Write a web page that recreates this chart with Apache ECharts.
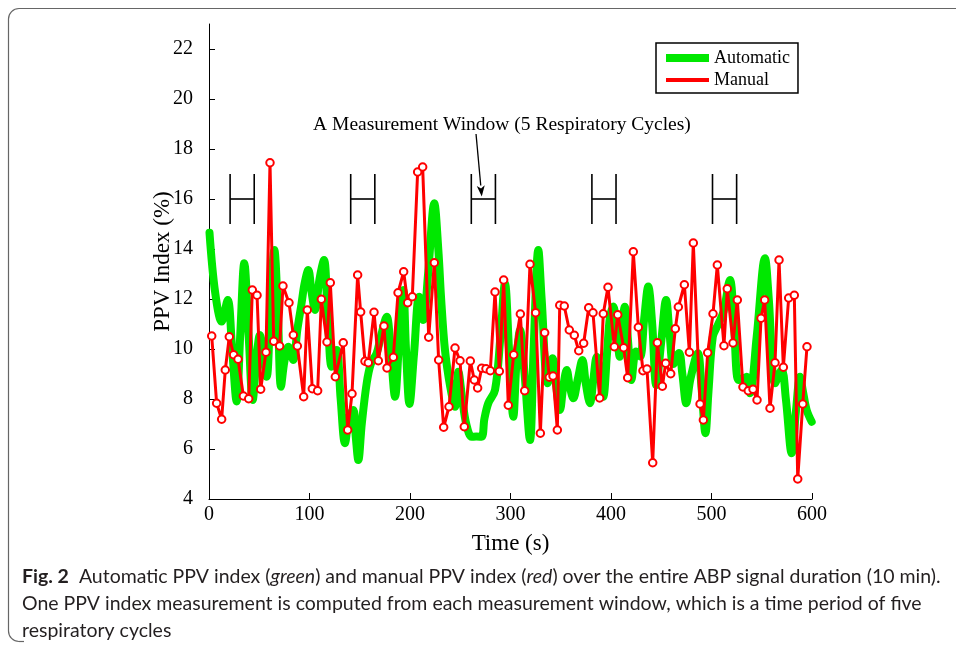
<!DOCTYPE html>
<html>
<head>
<meta charset="utf-8">
<script src="https://cdn.jsdelivr.net/npm/echarts@6/dist/echarts.min.js"></script>
<style>
html,body{margin:0;padding:0;background:#fff;}
#chart{width:956px;height:647px;}
</style>
</head>
<body>
<div id="chart"></div>
<script>
// ---- Data ----
const manualT = [
  2.7, 7.6, 12.6, 16.2, 20.2, 24.5, 28.9, 34.2, 39.5, 43.1,
  47.8, 51.4, 56.7, 60.7, 64.4, 70.3, 73.6, 79.6, 83.9, 87.9,
  94.2, 97.8, 102.8, 108.1, 111.8, 117.4, 120.7, 125.7, 133.6, 138,
  142.3, 147.9, 150.9, 155.2, 158.5, 164.2, 168.5, 174.1, 177.1, 183.4,
  188.1, 193.7, 197.7, 202.3, 207.6, 212.6, 218.6, 224.2, 228.5, 233.5,
  238.8, 244.8, 249.8, 254, 260, 264, 267.3, 271.3, 275.6, 279.9,
  284.6, 288.9, 293.2, 297.8, 303.2, 309.8, 314.1, 319.4, 325, 329.7,
  334, 338.6, 342.3, 346.6, 349, 353.5, 358.5, 363.5, 367.9, 372.8,
  377.8, 382.1, 388.7, 392.3, 397, 403.3, 406.7, 412.6, 416.6, 422.2,
  427.2, 431.8, 435.8, 441.5, 446.1, 451.1, 454.4, 459.4, 464, 467,
  473, 478, 481.9, 488.6, 491.9, 496.2, 501.5, 505.8, 512.4, 515.7,
  521.4, 525.7, 531.3, 536.6, 541.3, 545.3, 549.3, 552.9, 558.2, 563.2,
  567.2, 571.5, 576.8, 582.4, 585.8, 590.8, 595
];
const manualV = [
  10.52, 7.83, 7.19, 9.16, 10.49, 9.77, 9.59, 8.12, 8.01, 12.36,
  12.15, 8.39, 9.87, 17.45, 10.31, 10.12, 12.52, 11.85, 10.56, 10.12,
  8.09, 11.56, 8.41, 8.33, 11.99, 10.28, 12.65, 8.89, 10.25, 6.76,
  8.21, 12.96, 11.48, 9.51, 9.45, 11.47, 9.53, 10.92, 9.24, 9.67,
  12.25, 13.09, 11.85, 12.09, 17.08, 17.28, 10.47, 13.45, 9.56, 6.87,
  7.69, 10.04, 9.53, 6.89, 9.52, 8.76, 8.44, 9.23, 9.21, 9.13,
  12.28, 9.11, 12.76, 7.75, 9.77, 11.4, 8.33, 13.39, 11.45, 6.63,
  10.65, 8.87, 8.92, 6.76, 11.75, 11.72, 10.76, 10.55, 9.93, 10.23,
  11.65, 11.45, 8.04, 11.41, 12.47, 10.09, 11.37, 10.05, 8.85, 13.89,
  10.87, 9.13, 9.2, 5.45, 10.25, 8.51, 9.43, 9.01, 10.81, 11.68,
  12.57, 9.87, 14.24, 7.8, 7.16, 9.85, 11.41, 13.36, 10.13, 12.41,
  10.24, 11.96, 8.48, 8.33, 8.39, 7.96, 11.23, 11.96, 7.63, 9.45,
  13.56, 9.27, 12.04, 12.15, 4.8, 7.8, 10.09
];
const autoT = [
  0.5, 6, 12.6, 18.6, 23, 27.5, 31, 35.1, 39.5, 43.5,
  47, 50.7, 54, 57.4, 61, 65, 68.5, 71.6, 75, 78.9,
  81.5, 83.9, 88, 92, 95, 98.8, 102, 105.5, 110, 114.4,
  118, 122.1, 127, 131, 135.3, 139.5, 143.6, 146, 148.6, 152,
  156.9, 161, 166.8, 171, 176.8, 181, 185.1, 189, 193.3, 196,
  199.5, 204, 209, 213.2, 218, 224.2, 228.2, 231, 234.8, 240,
  244.8, 248.1, 252, 256, 261.4, 266, 271.3, 274, 277.9, 284.6,
  290, 294.5, 298.5, 302.8, 306, 309.5, 314, 319.4, 323, 327.7,
  331, 337, 342, 345.5, 349.2, 352.5, 355.9, 359, 362.5, 367,
  371.5, 375, 379.1, 382.5, 385.8, 389, 392.3, 396, 399, 402.3,
  405.5, 408.7, 411, 413.7, 417, 420.3, 424.9, 429, 433, 437.1,
  441, 445, 450, 454.8, 458.5, 462, 467.7, 471, 474.9, 479,
  486.4, 490, 494, 497, 501.3, 506.3, 512, 518.4, 522, 526.7,
  531, 535, 538.3, 545, 553.2, 557, 563.2, 569.8, 574, 579.8,
  584, 588.1, 591, 594.7, 599.7
];
const autoV = [
  14.65, 12.3, 11.1, 11.96, 10.0, 7.9, 10.5, 13.43, 10.5, 7.96,
  9.5, 10.56, 9.8, 8.89, 11.5, 13.96, 11.5, 8.49, 9.5, 10.09,
  9.8, 9.56, 10.8, 11.8, 12.6, 13.16, 12.3, 11.56, 12.8, 13.56,
  11.5, 9.29, 9.96, 8.0, 6.23, 7.3, 7.56, 6.5, 5.56, 7.0,
  8.63, 9.4, 9.83, 10.5, 11.29, 9.8, 8.09, 10.2, 12.36, 10.0,
  7.8, 9.8, 12.09, 11.16, 13.0, 15.83, 13.96, 12.0, 9.96, 8.5,
  7.69, 9.09, 8.0, 7.0, 6.49, 6.5, 6.49, 7.2, 7.83, 8.36,
  10.5, 12.63, 10.0, 7.29, 9.5, 10.76, 9.0, 6.36, 10.0, 13.96,
  12.0, 8.63, 9.63, 8.5, 7.56, 8.5, 9.16, 8.5, 8.03, 8.8,
  9.56, 8.6, 7.83, 8.8, 9.69, 9.0, 8.09, 9.8, 11.29, 11.7,
  10.8, 9.69, 10.8, 11.69, 10.3, 8.76, 9.9, 9.7, 11.2, 12.5,
  11.0, 8.55, 10.3, 11.96, 10.5, 9.4, 9.84, 9.0, 7.83, 8.8,
  9.83, 8.5, 6.63, 8.3, 10.49, 10.96, 11.5, 12.76, 11.3, 8.76,
  8.8, 8.89, 8.23, 10.5, 13.63, 12.0, 8.63, 9.16, 8.0, 5.83,
  7.5, 8.89, 8.3, 7.56, 7.09
];
// measurement window markers (seconds) and their vertical span (%)
const windowStart = [21, 141, 261, 381, 501];
const windowEnd = [45, 165, 285, 405, 525];
const windowLow = 15;
const windowHigh = 17;
// annotation arrow and label (data coordinates)
const arrowFrom = [265.7, 18.6];
const arrowTo = [271.4, 16.1];
const annotationPos = [291.5, 18.96];
const annotationText = 'A Measurement Window (5 Respiratory Cycles)';
const xTicks = [0, 100, 200, 300, 400, 500, 600];
const yTicks = [4, 6, 8, 10, 12, 14, 16, 18, 20, 22];
const seriesNames = ['Automatic', 'Manual'];
const captionLines = [
  '{b|Fig. 2}  Automatic PPV index ({i|green}) and manual PPV index ({i|red}) over the entire ABP signal duration (10 min).',
  'One PPV index measurement is computed from each measurement window, which is a time period of five',
  'respiratory cycles'
];

// ---- Build ----
const SERIF = "'Liberation Serif','Times New Roman',serif";
const CAPF = "Lato,'Liberation Sans',sans-serif";
function fitSize(text, family, target) {
  const c = document.createElement('canvas').getContext('2d');
  c.font = '100px ' + family;
  return 100 * target / c.measureText(text).width;
}
const capSize = fitSize(captionLines[1], CAPF, 900);

const chart = echarts.init(document.getElementById('chart'), null, {renderer: 'canvas'});
const manualData = manualT.map((t, i) => [t, manualV[i]]);
const autoData = autoT.map((t, i) => [t, autoV[i]]);
const frameStyle = {stroke: '#666', lineWidth: 1.2, fill: null};

const option = {
  animation: false,
  backgroundColor: '#fff',
  grid: {left: 209, right: 144, top: 24, bottom: 148, containLabel: false},
  legend: {
    orient: 'vertical', left: 656, top: 43,
    padding: [6, 8, 4, 6], itemGap: 4, itemWidth: 43, itemHeight: 18,
    borderColor: '#000', borderWidth: 1.5, backgroundColor: '#fff',
    textStyle: {fontFamily: SERIF, fontSize: 18, color: '#000'},
    itemStyle: {opacity: 0},
    data: [
      {name: seriesNames[0], lineStyle: {width: 8, color: '#00e800', cap: 'butt'}},
      {name: seriesNames[1], lineStyle: {width: 4, color: '#ff0000', cap: 'butt'}}
    ]
  },
  xAxis: {
    type: 'value', min: 0, max: 600, interval: 100,
    name: 'Time (s)', nameLocation: 'middle', nameGap: 33,
    nameTextStyle: {fontFamily: SERIF, fontSize: 23, color: '#000'},
    axisLine: {lineStyle: {color: '#000', width: 1}},
    axisTick: {inside: true, length: 6, lineStyle: {color: '#000'}},
    axisLabel: {fontFamily: SERIF, fontSize: 20, color: '#000', margin: 6},
    splitLine: {show: false}
  },
  yAxis: {
    type: 'value', min: 4, max: 23, interval: 2,
    name: 'PPV Index (%)', nameLocation: 'middle', nameGap: 35, nameMoveOverlap: false,
    nameTextStyle: {fontFamily: SERIF, fontSize: 23, color: '#000'},
    axisLine: {lineStyle: {color: '#000', width: 1}},
    axisTick: {inside: true, length: 6, lineStyle: {color: '#000'}, customValues: yTicks},
    axisLabel: {fontFamily: SERIF, fontSize: 20, color: '#000', margin: 16, customValues: yTicks,
      formatter: v => (yTicks.indexOf(v) >= 0 ? String(v) : '')},
    splitLine: {show: false}
  },
  series: [
    {
      name: seriesNames[0], type: 'line', data: autoData,
      smooth: 0.35, showSymbol: false, symbol: 'none',
      lineStyle: {color: '#00e800', width: 8, cap: 'round', join: 'round'},
      itemStyle: {color: '#00e800'}, z: 2
    },
    {
      name: seriesNames[1], type: 'line', data: manualData,
      symbol: 'circle', symbolSize: 7.5, showAllSymbol: true,
      lineStyle: {color: '#ff0000', width: 3},
      itemStyle: {color: '#ffffff', borderColor: '#ff0000', borderWidth: 2}, z: 3
    },
    {
      name: 'windows', type: 'custom', silent: true, z: 4,
      data: windowStart.map((s, i) => [s, windowEnd[i], windowLow, windowHigh]),
      encode: {x: [0, 1], y: [2, 3]},
      renderItem: (params, api) => {
        const s = api.value(0), e = api.value(1), lo = api.value(2), hi = api.value(3), mid = (lo + hi) / 2;
        const a = api.coord([s, hi]), b = api.coord([s, lo]);
        const c = api.coord([e, hi]), d = api.coord([e, lo]);
        const m1 = api.coord([s, mid]), m2 = api.coord([e, mid]);
        const st = {stroke: '#000', lineWidth: 1.6};
        return {type: 'group', children: [
          {type: 'line', shape: {x1: a[0], y1: a[1], x2: b[0], y2: b[1]}, style: st},
          {type: 'line', shape: {x1: c[0], y1: c[1], x2: d[0], y2: d[1]}, style: st},
          {type: 'line', shape: {x1: m1[0], y1: m1[1], x2: m2[0], y2: m2[1]}, style: st}
        ]};
      }
    },
    {
      name: 'arrow', type: 'custom', silent: true, z: 4,
      data: [[arrowFrom[0], arrowFrom[1], arrowTo[0], arrowTo[1]]],
      encode: {x: [0, 2], y: [1, 3]},
      renderItem: (params, api) => {
        const p = api.coord([api.value(0), api.value(1)]);
        const q = api.coord([api.value(2), api.value(3)]);
        const dx = q[0] - p[0], dy = q[1] - p[1], L = Math.hypot(dx, dy);
        const ux = dx / L, uy = dy / L, hl = 11, hw = 4;
        const bx = q[0] - ux * hl, by = q[1] - uy * hl;
        return {type: 'group', children: [
          {type: 'line', shape: {x1: p[0], y1: p[1], x2: bx, y2: by}, style: {stroke: '#000', lineWidth: 1.3}},
          {type: 'polygon', shape: {points: [[q[0], q[1]], [bx - uy * hw, by + ux * hw], [bx + ux * 3, by + uy * 3], [bx + uy * hw, by - ux * hw]]},
            style: {fill: '#000'}}
        ]};
      }
    },
    {
      name: 'annotation', type: 'custom', silent: true, z: 4,
      data: [[annotationPos[0], annotationPos[1]]],
      renderItem: (params, api) => {
        const p = api.coord([api.value(0), api.value(1)]);
        return {type: 'text', x: p[0], y: p[1], style: {
          text: annotationText, fontFamily: SERIF, fontSize: 19.5, fill: '#000',
          align: 'center', verticalAlign: 'middle'}};
      }
    }
  ],
  graphic: [
    {type: 'line', silent: true, shape: {x1: 19, y1: 8.5, x2: 958, y2: 8.5}, style: frameStyle},
    {type: 'line', silent: true, shape: {x1: 8.5, y1: 19, x2: 8.5, y2: 631}, style: frameStyle},
    {type: 'line', silent: true, shape: {x1: 19, y1: 641.5, x2: 24, y2: 641.5}, style: frameStyle},
    {type: 'arc', silent: true, shape: {cx: 19, cy: 19, r: 10.5, startAngle: Math.PI, endAngle: Math.PI * 1.5, clockwise: true}, style: frameStyle},
    {type: 'arc', silent: true, shape: {cx: 19, cy: 631, r: 10.5, startAngle: Math.PI * 0.5, endAngle: Math.PI, clockwise: true}, style: frameStyle},
    {type: 'text', left: 22, top: 579 - capSize * 0.6, silent: true, style: {
      text: captionLines[0], fontFamily: CAPF, fontSize: capSize, fill: '#231f20',
      rich: {
        b: {fontFamily: CAPF, fontSize: capSize, fontWeight: 'bold', fill: '#231f20'},
        i: {fontFamily: CAPF, fontSize: capSize, fontStyle: 'italic', fill: '#231f20'}
      }}},
    {type: 'text', left: 22, top: 606 - capSize * 0.6, silent: true, style: {
      text: captionLines[1], fontFamily: CAPF, fontSize: capSize, fill: '#231f20'}},
    {type: 'text', left: 22, top: 633 - capSize * 0.6, silent: true, style: {
      text: captionLines[2], fontFamily: CAPF, fontSize: capSize, fill: '#231f20'}}
  ]
};
chart.setOption(option);
</script>
</body>
</html>
